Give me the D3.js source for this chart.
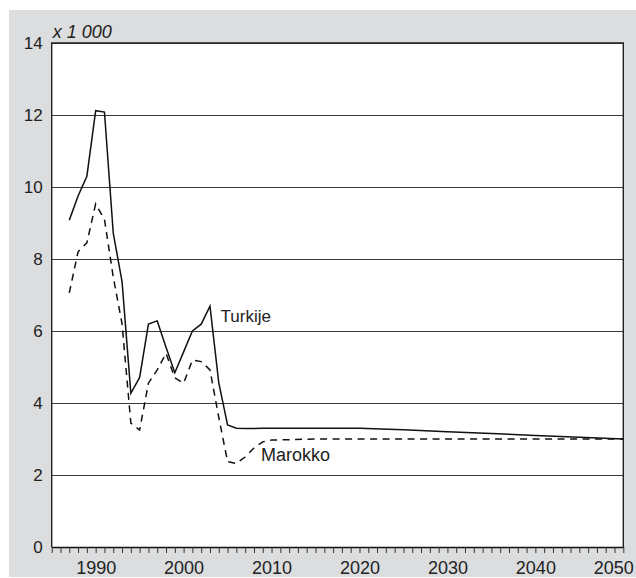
<!DOCTYPE html>
<html>
<head>
<meta charset="utf-8">
<script src="https://cdn.jsdelivr.net/npm/d3@7"></script>
<style>
  body { margin: 0; background: #fff; }
  svg { display: block; font-family: "Liberation Sans", Arial, sans-serif; }
</style>
</head>
<body>
<svg id="chart" width="636" height="578"></svg>
<script>
// data (x 1 000)
var years = [1987, 1988, 1989, 1990, 1991, 1992, 1993, 1994, 1995, 1996, 1997, 1998, 1999,
  2000, 2001, 2002, 2003, 2004, 2005, 2006, 2007, 2008, 2009, 2010,
  2015, 2020, 2025, 2030, 2035, 2040, 2045, 2050];

var turkije = [9.08, 9.75, 10.3, 12.12, 12.08, 8.72, 7.37, 4.27, 4.71, 6.19, 6.28, 5.55, 4.84,
  5.42, 6.0, 6.19, 6.69, 4.56, 3.39, 3.30, 3.29, 3.29, 3.30, 3.30,
  3.30, 3.30, 3.26, 3.20, 3.15, 3.10, 3.05, 3.00];

var marokko = [7.06, 8.2, 8.45, 9.53, 9.1, 7.5, 6.2, 3.44, 3.25, 4.55, 4.92, 5.38, 4.7,
  4.55, 5.19, 5.15, 4.92, 3.6, 2.37, 2.32, 2.5, 2.75, 2.92, 2.97,
  3.0, 3.0, 3.0, 3.0, 3.0, 3.0, 3.0, 3.0];

var yTicks = [0, 2, 4, 6, 8, 10, 12, 14];
var xLabels = [1990, 2000, 2010, 2020, 2030, 2040, 2050];
var unitLabel = "x 1 000";

var margin = {top: 43, right: 12.7, bottom: 31, left: 51.7};
var W = 636, H = 578;
var width = W - margin.left - margin.right;
var height = H - margin.top - margin.bottom;

var svg = d3.select("#chart");

// grey panel
svg.append("rect")
    .attr("x", 9).attr("y", 10)
    .attr("width", W - 9).attr("height", H - 11)
    .attr("fill", "#dcdddf");

var root = svg.append("g")
    .attr("transform", "translate(" + margin.left + "," + margin.top + ")");

root.append("rect")
    .attr("width", width).attr("height", height)
    .attr("fill", "#fff");

var x = d3.scaleLinear().domain([1985, 2050]).range([0, width]);
var y = d3.scaleLinear().domain([0, 14]).range([height, 0]);

// horizontal grid + y labels
var yAxis = root.append("g")
    .call(d3.axisLeft(y).tickValues(yTicks).tickSize(-width).tickSizeOuter(0).tickPadding(9));
yAxis.select(".domain").remove();
yAxis.selectAll(".tick line")
    .attr("stroke", "#3a3a3a")
    .attr("stroke-width", 1);
yAxis.selectAll(".tick text")
    .attr("fill", "#222")
    .attr("font-size", 17)
    .attr("font-family", "Liberation Sans, Arial, sans-serif");

// x axis with yearly ticks
var allYears = d3.range(1985, 2051);
var xAxis = root.append("g")
    .attr("transform", "translate(0," + height + ")")
    .call(d3.axisBottom(x).tickValues(allYears).tickSize(6).tickSizeOuter(0).tickPadding(8)
      .tickFormat(function(d) { return xLabels.indexOf(d) >= 0 ? d : ""; }));
xAxis.select(".domain").attr("stroke", "#111").attr("stroke-width", 1.3);
xAxis.selectAll(".tick line").attr("stroke", "#333").attr("stroke-width", 1);
xAxis.selectAll(".tick text")
    .attr("fill", "#222")
    .attr("font-size", 18)
    .attr("font-family", "Liberation Sans, Arial, sans-serif");
// last label is pulled inside the panel
xAxis.selectAll(".tick text")
    .filter(function(d) { return d === 2050; })
    .attr("text-anchor", "end")
    .attr("x", 10);

// frame
root.append("path")
    .attr("d", "M0," + height + "V0H" + width + "V" + height)
    .attr("fill", "none")
    .attr("stroke", "#222")
    .attr("stroke-width", 1.4);

var line = function(vals) {
  return d3.line()
      .x(function(d, i) { return x(years[i]); })
      .y(function(d) { return y(d); })(vals);
};

root.append("path")
    .attr("d", line(marokko))
    .attr("fill", "none")
    .attr("stroke", "#111")
    .attr("stroke-width", 1.5)
    .attr("stroke-dasharray", "7,5.5");

root.append("path")
    .attr("d", line(turkije))
    .attr("fill", "none")
    .attr("stroke", "#111")
    .attr("stroke-width", 1.5)
    .attr("stroke-linejoin", "miter");

// series labels
root.append("text")
    .attr("x", x(2004.2)).attr("y", y(6.7))
    .attr("dy", "0.95em")
    .attr("font-size", 17)
    .attr("fill", "#222")
    .text("Turkije");

root.append("text")
    .attr("x", x(2008.8)).attr("y", y(2.57))
    .attr("dy", "0.35em")
    .attr("font-size", 18)
    .attr("fill", "#222")
    .text("Marokko");

// unit label
root.append("text")
    .attr("x", 1).attr("y", -5.5)
    .attr("font-size", 18)
    .attr("font-style", "italic")
    .attr("fill", "#222")
    .text(unitLabel);
</script>
</body>
</html>
